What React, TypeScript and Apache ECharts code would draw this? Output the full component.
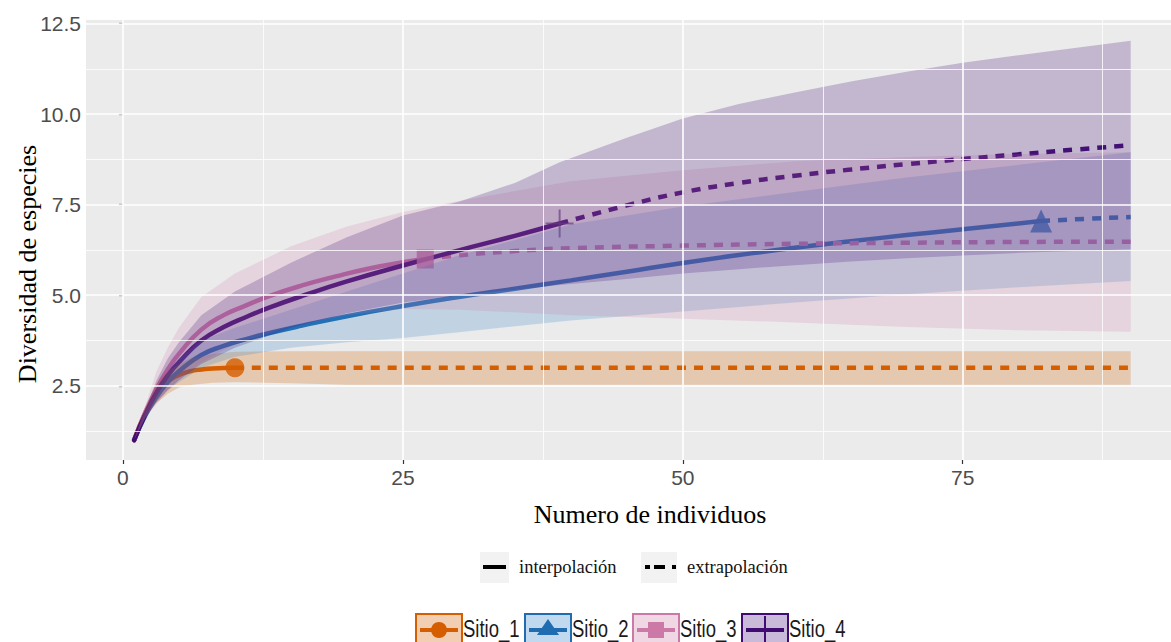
import React, { useEffect, useRef } from "react";
import * as echarts from "echarts";

// ---------- data ----------
const SITES = ["Sitio_1", "Sitio_2", "Sitio_3", "Sitio_4"];
const LINE_COLORS = ["#D55E00", "#1F6CB0", "#CC79A7", "#400C72"];
const BAND_COLORS = ["rgba(213,94,0,0.25)", "rgba(45,128,200,0.22)", "rgba(204,121,167,0.2)", "rgba(75,26,128,0.25)"];

const X_TICKS = [0, 25, 50, 75];
const Y_TICKS = [2.5, 5, 7.5, 10, 12.5];
const X_MINOR = [12.5, 37.5, 62.5, 87.5];
const Y_MINOR = [1.25, 3.75, 6.25, 8.75, 11.25];

// interpolated (solid) curves
const s1Interp = [[1, 1], [2, 1.75], [3, 2.3], [4, 2.62], [5, 2.8], [6, 2.9], [7, 2.95], [8, 2.98], [10, 3.0]];
const s2Interp = [[1, 1], [2, 1.68], [3, 2.2], [4, 2.6], [5, 2.9], [7, 3.35], [9, 3.6], [11, 3.79], [13, 3.95], [16, 4.16], [20, 4.42], [25, 4.7], [30, 4.95], [35, 5.18], [40, 5.41], [45, 5.65], [50, 5.89], [55, 6.11], [60, 6.31], [65, 6.49], [70, 6.66], [75, 6.82], [82, 7.05]];
const s3Interp = [[1, 1], [2, 1.78], [3, 2.42], [4, 2.95], [5, 3.38], [7, 4.05], [9, 4.45], [11, 4.72], [13, 4.97], [16, 5.27], [19, 5.52], [22, 5.74], [25, 5.91], [27, 6.0]];
const s4Interp = [[1, 1], [2, 1.72], [3, 2.32], [4, 2.78], [5, 3.15], [7, 3.75], [9, 4.12], [11, 4.4], [13, 4.65], [16, 4.98], [20, 5.38], [25, 5.82], [30, 6.24], [35, 6.64], [39, 6.98]];

// extrapolated (dashed) curves
const s1Extrap = [[10, 3.0], [90, 3.0]];
const s2Extrap = [[82, 7.05], [86, 7.11], [90, 7.16]];
const s3Extrap = [[27, 6.0], [30, 6.1], [35, 6.22], [40, 6.3], [50, 6.37], [60, 6.42], [70, 6.45], [80, 6.47], [90, 6.48]];
const s4Extrap = [[39, 6.98], [45, 7.48], [50, 7.84], [55, 8.1], [60, 8.3], [65, 8.47], [70, 8.62], [75, 8.76], [80, 8.89], [85, 9.02], [90, 9.14]];

// observed points
const s1Obs = [[10, 3.0]];
const s2Obs = [[82, 7.05]];
const s3Obs = [[27, 6.0]];
const s4Obs = [[39, 6.98]];

// confidence bands [x, lower, upper]
const s1Band = [[1, 1, 1], [2, 1.62, 1.88], [3, 2.02, 2.55], [4, 2.28, 2.9], [5, 2.45, 3.1], [6, 2.52, 3.25], [8, 2.58, 3.38], [10, 2.6, 3.44], [15, 2.57, 3.45], [20, 2.53, 3.45], [90, 2.53, 3.45]];
const s2Band = [[1, 1, 1], [2, 1.62, 1.78], [3, 2.05, 2.4], [4, 2.38, 2.88], [5, 2.6, 3.25], [7, 3.0, 3.75], [10, 3.3, 4.1], [15, 3.55, 4.6], [20, 3.7, 5.1], [25, 3.82, 5.6], [30, 3.98, 6.1], [40, 4.3, 6.95], [50, 4.55, 7.45], [60, 4.8, 7.85], [70, 5.03, 8.25], [80, 5.22, 8.6], [90, 5.39, 8.95]];
const s3Band = [[1, 1, 1], [2, 1.62, 1.95], [3, 2.0, 2.9], [4, 2.35, 3.55], [5, 2.65, 4.1], [7, 3.15, 4.95], [10, 3.65, 5.6], [15, 4.15, 6.35], [20, 4.45, 6.9], [25, 4.62, 7.3], [30, 4.6, 7.6], [40, 4.45, 8.15], [50, 4.35, 8.45], [60, 4.25, 8.7], [70, 4.12, 8.82], [80, 4.03, 8.9], [90, 3.99, 8.95]];
const s4Band = [[1, 1, 1], [2, 1.62, 1.85], [3, 2.05, 2.65], [4, 2.38, 3.25], [5, 2.65, 3.7], [7, 3.1, 4.45], [10, 3.55, 5.1], [15, 4.1, 5.9], [20, 4.5, 6.6], [25, 4.8, 7.2], [30, 5.0, 7.58], [35, 5.15, 8.1], [39, 5.28, 8.67], [45, 5.45, 9.35], [50, 5.6, 9.88], [55, 5.72, 10.28], [60, 5.83, 10.6], [65, 5.93, 10.9], [70, 6.02, 11.17], [75, 6.1, 11.42], [80, 6.17, 11.63], [85, 6.22, 11.83], [90, 6.27, 12.03]];

const INTERP = [s1Interp, s2Interp, s3Interp, s4Interp];
const EXTRAP = [s1Extrap, s2Extrap, s3Extrap, s4Extrap];
const OBS = [s1Obs, s2Obs, s3Obs, s4Obs];
const BANDS = [s1Band, s2Band, s3Band, s4Band];

const LEGEND_LINETYPES = ["interpolación", "extrapolación"];
const X_TITLE = "Numero de individuos";
const Y_TITLE = "Diversidad de especies";

const PLUS_PATH = "path://M-1,-14 L1,-14 L1,-1 L14,-1 L14,1 L1,1 L1,14 L-1,14 L-1,1 L-14,1 L-14,-1 L-1,-1 Z";
const MARKERS = ["circle", "triangle", "rect", PLUS_PATH];
const MARKER_SIZES: any[] = [19, [22, 23], [17, 19], 28];

function bandSeries(band: number[][], fill: string) {
  return {
    type: "custom",
    z: 4,
    silent: true,
    clip: true,
    data: [[band[0][0], band[0][1]]],
    encode: { x: 0, y: 1 },
    renderItem: (_params: any, api: any) => {
      const upper = band.map((d) => api.coord([d[0], d[2]]));
      const lower = band.slice().reverse().map((d) => api.coord([d[0], d[1]]));
      return { type: "polygon", shape: { points: upper.concat(lower) }, style: { fill } };
    },
  };
}

function buildLegend() {
  const els: any[] = [];
  // line type legend
  els.push({ type: "rect", shape: { x: 480, y: 552, width: 29, height: 31 }, style: { fill: "#F2F2F2" } });
  els.push({ type: "line", shape: { x1: 483, y1: 567, x2: 506, y2: 567 }, style: { stroke: "#000", lineWidth: 4 } });
  els.push({ type: "text", x: 519, y: 567, style: { text: LEGEND_LINETYPES[0], font: "18.5px 'Liberation Serif'", fill: "#111", verticalAlign: "middle" } });
  els.push({ type: "rect", shape: { x: 641, y: 552, width: 36, height: 31 }, style: { fill: "#F2F2F2" } });
  els.push({ type: "line", shape: { x1: 645, y1: 567, x2: 676, y2: 567 }, style: { stroke: "#000", lineWidth: 4, lineDash: [5, 4, 11, 7] } });
  els.push({ type: "text", x: 687, y: 567, style: { text: LEGEND_LINETYPES[1], font: "18.5px 'Liberation Serif'", fill: "#111", verticalAlign: "middle" } });

  // site legend
  const boxX = [416, 525, 633, 742];
  SITES.forEach((name, i) => {
    const x0 = boxX[i];
    const c = LINE_COLORS[i];
    const cx = x0 + 23;
    const cy = 630;
    els.push({ type: "rect", shape: { x: x0, y: 614, width: 46, height: 32 }, style: { fill: BAND_COLORS[i].replace(/[\d.]+\)$/, "0.3)"), stroke: c, lineWidth: 2 } });
    els.push({ type: "line", shape: { x1: x0 + 4, y1: cy, x2: x0 + 42, y2: cy }, style: { stroke: c, lineWidth: 4 } });
    if (i === 0) els.push({ type: "circle", shape: { cx, cy, r: 8 }, style: { fill: c } });
    if (i === 1) els.push({ type: "polygon", shape: { points: [[cx - 11, cy + 5], [cx + 11, cy + 5], [cx, cy - 11]] }, style: { fill: c } });
    if (i === 2) els.push({ type: "rect", shape: { x: cx - 8, y: cy - 8, width: 16, height: 16 }, style: { fill: c } });
    if (i === 3) els.push({ type: "line", shape: { x1: cx, y1: cy - 14, x2: cx, y2: cy + 14 }, style: { stroke: c, lineWidth: 2 } });
    els.push({ type: "text", x: x0 + 47, y: cy - 1, scaleX: 0.77, style: { text: name, font: "24px 'Liberation Sans'", fill: "#1A1A1A", verticalAlign: "middle" } });
  });

  // axis titles
  els.push({ type: "text", x: 650, y: 514, style: { text: X_TITLE, font: "26px 'Liberation Serif'", fill: "#000", align: "center", verticalAlign: "middle" } });
  els.push({ type: "text", x: 27, y: 264, rotation: Math.PI / 2, style: { text: Y_TITLE, font: "26px 'Liberation Serif'", fill: "#000", align: "center", verticalAlign: "middle" } });
  return els;
}

export default function App() {
  const ref = useRef<HTMLDivElement>(null);
  useEffect(() => {
    if (!ref.current) return;
    const chart = echarts.init(ref.current, null, { renderer: "svg" });

    const gridLines = {
      type: "line",
      z: 1,
      silent: true,
      data: [],
      markLine: {
        silent: true,
        symbol: "none",
        animation: false,
        label: { show: false },
        data: [
          ...X_TICKS.map((v) => ({ xAxis: v, lineStyle: { color: "#FFFFFF", width: 1.6, type: "solid" } })),
          ...Y_TICKS.map((v) => ({ yAxis: v, lineStyle: { color: "#FFFFFF", width: 1.6, type: "solid" } })),
          ...X_MINOR.map((v) => ({ xAxis: v, lineStyle: { color: "#FFFFFF", width: 0.8, type: "solid" } })),
          ...Y_MINOR.map((v) => ({ yAxis: v, lineStyle: { color: "#FFFFFF", width: 0.8, type: "solid" } })),
        ],
      },
    };

    const series: any[] = [gridLines];
    SITES.forEach((name, i) => {
      series.push({
        type: "line",
        name: name + " interp",
        z: 2,
        data: INTERP[i],
        smooth: 0.5,
        showSymbol: false,
        symbol: "none",
        lineStyle: { color: LINE_COLORS[i], width: 4.5, cap: "round" },
      });
      series.push({
        type: "line",
        name: name + " extrap",
        z: 2,
        data: EXTRAP[i],
        smooth: 0.5,
        showSymbol: false,
        symbol: "none",
        lineStyle: { color: LINE_COLORS[i], width: 4.5, type: [9, 8] },
      });
    });
    SITES.forEach((name, i) => {
      series.push({
        type: "scatter",
        name: name + " obs",
        z: 3,
        data: OBS[i],
        symbol: MARKERS[i],
        symbolSize: MARKER_SIZES[i],
        itemStyle: { color: i === 3 ? "rgba(90,60,110,0.85)" : LINE_COLORS[i] },
      });
    });
    BANDS.forEach((b, i) => series.push(bandSeries(b, BAND_COLORS[i])));

    chart.setOption({
      animation: false,
      grid: { left: 86, right: 0, top: 20, bottom: 182, show: true, backgroundColor: "#EBEBEB", borderWidth: 0 },
      xAxis: {
        type: "value",
        min: -3.3,
        max: 93.6,
        splitLine: { show: false },
        axisLine: { show: false },
        axisTick: { show: true, customValues: X_TICKS, length: 4, lineStyle: { color: "#333", width: 1.2 } },
        axisLabel: { customValues: X_TICKS, color: "#4D4D4D", fontSize: 21, fontFamily: "Liberation Sans", margin: 7 },
      },
      yAxis: {
        type: "value",
        min: 0.45,
        max: 12.6,
        splitLine: { show: false },
        axisLine: { show: false },
        axisTick: { show: true, customValues: Y_TICKS, length: 4, lineStyle: { color: "#333", width: 1.2 } },
        axisLabel: { customValues: Y_TICKS, color: "#4D4D4D", fontSize: 21, fontFamily: "Liberation Sans", margin: 5, formatter: (v: number) => v.toFixed(1) },
      },
      series,
      graphic: buildLegend(),
    });
    return () => chart.dispose();
  }, []);
  return <div ref={ref} style={{ position: "absolute", left: 0, top: 0, width: 1171, height: 642 }} />;
}
